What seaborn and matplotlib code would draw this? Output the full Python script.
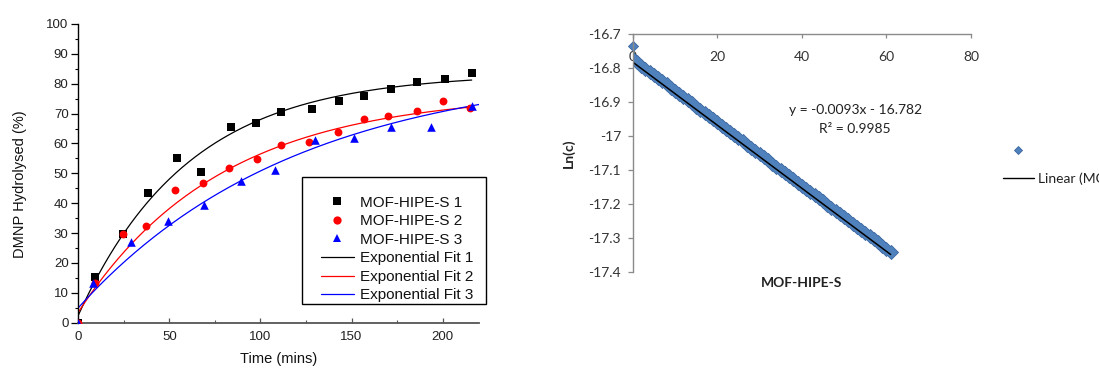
import numpy as np
import pandas as pd
import matplotlib
matplotlib.use("Agg")
import matplotlib.pyplot as plt
from matplotlib.lines import Line2D
from matplotlib.patches import Rectangle
from matplotlib.ticker import MultipleLocator, FixedLocator, FixedFormatter
import seaborn as sns

# ---------------- data: left chart ----------------
s1_time = [0, 9.1, 24.5, 38.2, 54.4, 67.6, 83.8, 97.4, 111.1, 128.2, 143.2, 156.7, 171.5, 185.9, 201.1, 215.9]
s1_val = [0, 15.4, 29.6, 43.3, 55.1, 50.4, 65.6, 66.9, 70.6, 71.7, 74.1, 75.9, 78.3, 80.5, 81.5, 83.7]

s2_time = [0, 9.1, 24.5, 37.4, 53.2, 68.5, 82.7, 98.1, 111.1, 126.6, 142.6, 156.9, 170.2, 185.8, 200.4, 215.0]
s2_val = [0, 13.2, 29.6, 32.5, 44.4, 46.9, 51.7, 54.8, 59.4, 60.4, 63.8, 68.3, 69.3, 71.0, 74.1, 72.0]

s3_time = [0, 7.9, 28.7, 49.5, 69.2, 89.1, 107.9, 129.7, 151.4, 171.7, 193.6, 216.1]
s3_val = [0, 13.2, 27.1, 34.2, 39.4, 47.4, 51.0, 61.2, 61.7, 65.6, 65.4, 72.5]

series_labels = ["MOF-HIPE-S 1", "MOF-HIPE-S 2", "MOF-HIPE-S 3"]
fit_labels = ["Exponential Fit 1", "Exponential Fit 2", "Exponential Fit 3"]
# exponential fit parameters (y0, A, t) and end of fitted range
fit_y0 = [2.5, 3.5, 5.0]
fit_A = [81.0, 73.3, 81.0]
fit_tau = [60.4, 77.9, 120.0]
fit_end = [216, 217, 220]

# ---------------- data: right chart ----------------
band_x = list(range(0, 62))
band_y = [-16.774, -16.783, -16.793, -16.802, -16.811, -16.821, -16.830, -16.839, -16.848, -16.858,
          -16.867, -16.876, -16.886, -16.895, -16.904, -16.914, -16.923, -16.932, -16.941, -16.951,
          -16.960, -16.969, -16.979, -16.988, -16.997, -17.007, -17.016, -17.025, -17.034, -17.044,
          -17.053, -17.062, -17.072, -17.081, -17.090, -17.100, -17.109, -17.118, -17.127, -17.137,
          -17.146, -17.155, -17.165, -17.174, -17.183, -17.193, -17.202, -17.211, -17.220, -17.230,
          -17.239, -17.248, -17.258, -17.267, -17.276, -17.286, -17.295, -17.304, -17.313, -17.323,
          -17.332, -17.341]
outlier_x = [0]
outlier_y = [-16.734]
trend_slope = -0.0093
trend_intercept = -16.782
trend_x_range = [0, 61]
right_yticks = [-17.4, -17.3, -17.2, -17.1, -17.0, -16.9, -16.8, -16.7]
right_yticklabels = ["-17.4", "-17.3", "-17.2", "-17.1", "-17", "-16.9", "-16.8", "-16.7"]
right_xticks = [0, 20, 40, 60, 80]
right_xticklabels = ["0", "20", "40", "60", "80"]

# ---------------- style ----------------
sns.set_style("white")
plt.rcParams["font.family"] = ["Liberation Sans", "DejaVu Sans"]
plt.rcParams["axes.unicode_minus"] = False

W, H = 1099, 370
fig = plt.figure(figsize=(W / 100, H / 100), dpi=100)

def fbox(l, t, r, b):
    return [l / W, 1 - b / H, (r - l) / W, (b - t) / H]

# ================= left chart =================
ax1 = fig.add_axes(fbox(78.3, 24.0, 479.0, 322.7))
colors = ["black", "#ff0000", "#0000ff"]
markers = ["s", "o", "^"]
sizes = [26, 32, 38]
times = [s1_time, s2_time, s3_time]
vals = [s1_val, s2_val, s3_val]

for i in range(3):
    xf = np.linspace(0, fit_end[i], 300)
    yf = fit_y0[i] + fit_A[i] * (1 - np.exp(-xf / fit_tau[i]))
    sns.lineplot(x=xf, y=yf, color=colors[i], linewidth=0.9, ax=ax1, zorder=2)
for i in range(3):
    sns.scatterplot(x=times[i], y=vals[i], marker=markers[i], s=sizes[i], color=colors[i],
                    edgecolor=colors[i], linewidth=0, ax=ax1, zorder=3)

ax1.set_xlim(0, 220)
ax1.set_ylim(0, 100)
ax1.xaxis.set_major_locator(MultipleLocator(50))
ax1.xaxis.set_minor_locator(MultipleLocator(25))
ax1.yaxis.set_major_locator(MultipleLocator(10))
ax1.yaxis.set_minor_locator(MultipleLocator(5))
for sp in ["top", "right"]:
    ax1.spines[sp].set_visible(False)
ax1.spines["left"].set_color("black")
ax1.spines["left"].set_linewidth(1.0)
ax1.spines["bottom"].set_color("#555555")
ax1.spines["bottom"].set_linewidth(1.3)
ax1.tick_params(axis="y", which="major", direction="out", length=5, width=0.9, color="black",
                labelsize=9.5, labelcolor="#222222", pad=2, left=True)
ax1.tick_params(axis="y", which="minor", direction="out", length=2.5, width=0.8, color="black", left=True)
ax1.tick_params(axis="x", which="major", direction="in", length=3.5, width=0.9, color="#555555",
                labelsize=9.5, labelcolor="#222222", pad=6, bottom=True)
ax1.tick_params(axis="x", which="minor", direction="in", length=2, width=0.8, color="#555555", bottom=True)
ax1.set_xlabel("Time (mins)", fontsize=10.5, color="#111111")
ax1.set_ylabel("DMNP Hydrolysed (%)", fontsize=10.5, color="#111111")
ax1.xaxis.set_label_coords(0.5, -0.098)
ax1.yaxis.set_label_coords(-0.128, 0.465)
ax1.grid(False)

# legend box
fig.patches.append(Rectangle((301.7 / W, 1 - 304.3 / H), 184 / W, 127.6 / H,
                             transform=fig.transFigure, fill=True, facecolor="white",
                             edgecolor="black", linewidth=1.0, zorder=5))
handles = [Line2D([], [], linestyle="none", marker=markers[i], color=colors[i],
                  markersize=np.sqrt(sizes[i]) * 1.05, markeredgewidth=0) for i in range(3)]
handles += [Line2D([], [], color=colors[i], linewidth=0.9) for i in range(3)]
leg = fig.legend(handles, series_labels + fit_labels, loc="center left",
                 bbox_to_anchor=(321.7 / W - 0.001, 1 - 249 / H), frameon=False,
                 fontsize=11, handlelength=2.2, handletextpad=0.4, labelspacing=0.3,
                 borderpad=0, borderaxespad=0)
leg.set_zorder(6)
for t in leg.get_texts():
    t.set_color("#111111")

# ================= right chart =================
rfont = ["Lato", "DejaVu Sans"]
ax2 = fig.add_axes(fbox(632.7, 34.3, 971.0, 271.7))
# outline layer then fill layer, giving a continuous band of diamonds
sns.scatterplot(x=band_x, y=band_y, marker="D", s=60, color="#3a66a0", linewidth=0,
                ax=ax2, zorder=1)
sns.scatterplot(x=band_x, y=band_y, marker="D", s=44, color="#4f81bd", linewidth=0,
                ax=ax2, zorder=1.1)
sns.scatterplot(x=outlier_x, y=outlier_y, marker="D", s=26, color="#4f81bd", edgecolor="#3a66a0",
                linewidth=0.6, ax=ax2, zorder=1, clip_on=False)
tx = np.array(trend_x_range, dtype=float)
sns.lineplot(x=tx, y=trend_slope * tx + trend_intercept, color="black", linewidth=1.1, ax=ax2, zorder=2)

ax2.set_xlim(0, 80)
ax2.set_ylim(-17.4, -16.7)
ax2.yaxis.set_major_locator(FixedLocator(right_yticks))
ax2.yaxis.set_major_formatter(FixedFormatter(right_yticklabels))
ax2.xaxis.set_major_locator(FixedLocator(right_xticks))
ax2.xaxis.set_major_formatter(FixedFormatter(right_xticklabels))
for sp in ["bottom", "right"]:
    ax2.spines[sp].set_visible(False)
for sp in ["left", "top"]:
    ax2.spines[sp].set_color("#8a8a8a")
    ax2.spines[sp].set_linewidth(1.0)
ax2.tick_params(axis="y", direction="out", length=3.5, width=0.9, color="#8a8a8a",
                labelsize=10, labelcolor="#333333", pad=5, left=True)
ax2.tick_params(axis="x", top=True, bottom=False, labeltop=True, labelbottom=False,
                direction="in", length=3, width=0.9, color="#8a8a8a",
                labelsize=10, labelcolor="#333333", pad=-21)
for lab in ax2.get_xticklabels() + ax2.get_yticklabels():
    lab.set_family(rfont)
ax2.set_ylabel("Ln(c)", fontsize=10, fontweight="bold", family=rfont, color="#222222")
ax2.set_xlabel("MOF-HIPE-S", fontsize=10, fontweight="bold", family=rfont, color="#222222")
ax2.yaxis.set_label_coords(-0.171, 0.5)
ax2.xaxis.set_label_position("bottom")
ax2.xaxis.set_label_coords(0.5, -0.022)
ax2.grid(False)

ax2.text(52.6, -16.923, "y = -0.0093x - 16.782", ha="center", va="center",
         fontsize=10, family=rfont, color="#222222")
ax2.text(52.6, -16.980, "R² = 0.9985", ha="center", va="center",
         fontsize=10, family=rfont, color="#222222")

# right legend
h2 = [Line2D([], [], linestyle="none", marker="D", color="#4f81bd", markeredgecolor="#3a66a0",
             markersize=4.0, markeredgewidth=0.6),
      Line2D([], [], color="black", linewidth=1.0)]
leg2 = fig.legend(h2, ["", "Linear (MOF-HIPE-S)"], loc="center left",
                  bbox_to_anchor=(1003 / W, 1 - 165 / H), frameon=False,
                  prop={"family": rfont, "size": 10}, handlelength=2.2, handletextpad=0.3,
                  labelspacing=1.1, borderpad=0, borderaxespad=0)
for t in leg2.get_texts():
    t.set_color("#222222")

fig.savefig("out.png", dpi=100)
